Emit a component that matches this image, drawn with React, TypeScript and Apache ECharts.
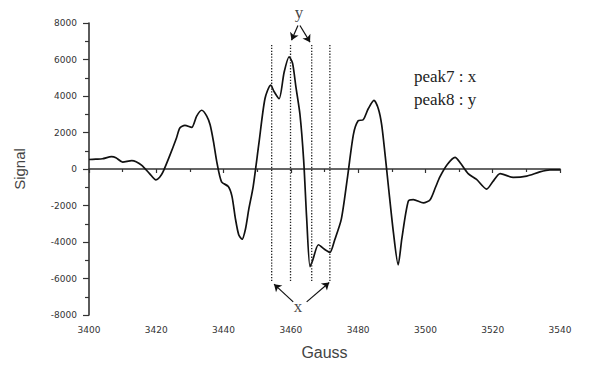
import React, { useEffect, useRef } from "react";
import * as echarts from "echarts";

const gaussX = [
  3400, 3402, 3404, 3406.7, 3408, 3410, 3412.7, 3414, 3415.7, 3418, 3419.9, 3421, 3422, 3424, 3426, 3427,
  3428.5, 3430.5, 3432, 3433.5, 3435, 3436, 3437, 3438, 3439.4, 3441.4, 3442.5, 3443.5, 3444.5, 3445.5,
  3446.5, 3447.5, 3448.8, 3450.5, 3452.3, 3454, 3455, 3456.5, 3458, 3459.5, 3460.5, 3461.5, 3462.7, 3463.8,
  3464.7, 3465.7, 3466.5, 3468.2, 3470, 3471.6, 3473, 3475, 3476.8, 3478.6, 3480, 3481.5, 3483, 3484.7,
  3486, 3487, 3488, 3489, 3490.5, 3491.9, 3493, 3494.9, 3496.4, 3499.4, 3501.4, 3503, 3504.3, 3506.5,
  3508.8, 3510.5, 3512.7, 3515.2, 3518.2, 3520, 3522.2, 3526.1, 3530.1, 3534, 3537, 3540,
];
const signalY = [
  520, 540, 560, 680, 620, 380, 460, 400, 200, -250, -600, -450, -160, 730, 1700, 2250,
  2390, 2280, 2900, 3220, 2900, 2420, 1500, 380, -700, -960, -1500, -2700, -3600, -3850,
  -3300, -2200, -960, 1400, 3850, 4600, 4250, 3850, 5300, 6150, 5800, 4500, 3000, 500,
  -2700, -5350, -5000, -4150, -4400, -4570, -3900, -2750, -500, 1900, 2640, 2700, 3300, 3760,
  3300, 2420, 800, -960, -3500, -5250, -3800, -1770, -1680, -1860, -1680, -1000, -430, 250,
  640, 300, -250, -570, -1100, -700, -250, -460, -390, -160, -50, -50,
];

const peakLineX = [3454.3, 3459.9, 3466.2, 3471.6];
const peakLineTop = 6800;
const peakLineBottom = -6150;

// arrow [from, to] pairs (Gauss, Signal)
const arrowsY = [
  [[3462.1, 7860], [3460.2, 7060]],
  [[3462.7, 7860], [3465.7, 6950]],
];
const arrowsX = [
  [[3460.7, -7280], [3455.0, -6310]],
  [[3464.7, -7280], [3471.4, -6220]],
];
const annotLabels = ["y", "x"];
const annotPos = [
  [3462.4, 8550],
  [3462.1, -7540],
];
const legendLines = ["peak7 : x", "peak8 : y"];

export default function App() {
  const ref = useRef<HTMLDivElement>(null);
  useEffect(() => {
    if (!ref.current) return;
    const chart = echarts.init(ref.current, null, { renderer: "svg" });
    const curve = gaussX.map((x, i) => [x, signalY[i]]);
    const arrowData = [...arrowsY, ...arrowsX].map((p) => [
      { coord: p[0] },
      { coord: p[1] },
    ]);
    const series: any[] = [
      {
        type: "line",
        data: curve,
        showSymbol: false,
        smooth: 0.25,
        lineStyle: { color: "#111", width: 1.7 },
        itemStyle: { color: "#111" },
        markLine: {
          silent: true,
          symbol: ["none", "arrow"],
          symbolSize: 7,
          label: { show: false },
          lineStyle: { color: "#111", width: 1.2, type: "solid" },
          data: arrowData,
        },
      },
      ...peakLineX.map((x) => ({
        type: "line",
        data: [
          [x, peakLineTop],
          [x, peakLineBottom],
        ],
        showSymbol: false,
        lineStyle: { color: "#222", width: 1.3, type: [1.3, 1.6] },
      })),
      {
        type: "scatter",
        clip: false,
        symbolSize: 0,
        data: annotPos.map((p, i) => ({ value: p, name: annotLabels[i] })),
        label: {
          show: true,
          position: "inside",
          formatter: (p: any) => p.name,
          fontFamily: "Liberation Serif",
          fontSize: 17,
          color: "#111",
        },
      },
    ];
    chart.setOption({
      animation: false,
      backgroundColor: "#fff",
      grid: { left: 89, right: 30, top: 23, bottom: 43 },
      xAxis: {
        type: "value",
        min: 3400,
        max: 3540,
        interval: 20,
        name: "Gauss",
        nameLocation: "middle",
        nameGap: 29,
        nameTextStyle: { fontFamily: "Liberation Sans", fontSize: 16, color: "#444" },
        axisLine: { lineStyle: { color: "#333", width: 1.6 } },
        axisTick: { length: 4, lineStyle: { color: "#333", width: 1.2 } },
        minorTick: { show: true, splitNumber: 2, length: 3, lineStyle: { color: "#333", width: 1.2 } },
        splitLine: { show: false },
        axisLabel: {
          fontFamily: "DejaVu Sans",
          fontSize: 9,
          color: "#333",
          margin: 10,
          formatter: (v: number) => String(v),
        },
      },
      yAxis: {
        type: "value",
        min: -8000,
        max: 8000,
        interval: 2000,
        name: "Signal",
        nameLocation: "middle",
        nameRotate: 90,
        nameGap: 62,
        nameTextStyle: { fontFamily: "Liberation Sans", fontSize: 15, color: "#444" },
        axisLine: { lineStyle: { color: "#333", width: 1.6 } },
        axisTick: { length: 6, lineStyle: { color: "#333", width: 1.2 } },
        minorTick: { show: true, splitNumber: 2, length: 4, lineStyle: { color: "#333", width: 1.2 } },
        splitLine: { show: false },
        axisLabel: {
          fontFamily: "DejaVu Sans",
          fontSize: 9,
          color: "#333",
          margin: 12,
          formatter: (v: number) => String(v),
        },
      },
      graphic: legendLines.map((t, i) => ({
        type: "text",
        left: 414,
        top: 68 + i * 23,
        style: { text: t, fontFamily: "Liberation Serif", fontSize: 17, fill: "#222" },
      })),
      series,
    });
    return () => chart.dispose();
  }, []);
  return (
    <div
      ref={ref}
      style={{ position: "fixed", left: 0, top: 0, width: 590, height: 365 }}
    />
  );
}
